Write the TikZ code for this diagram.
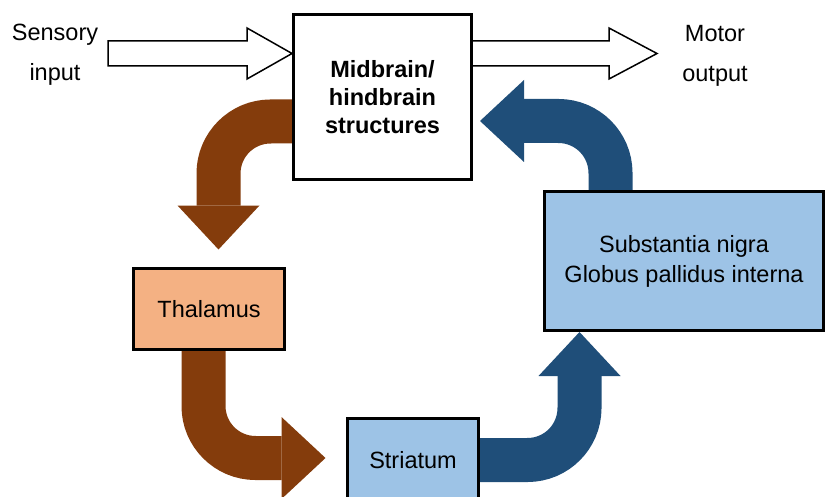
\documentclass[tikz,border=0pt]{standalone}
\usepackage{fontspec}
\setmainfont{Liberation Sans}
\usepackage{xcolor}
\usetikzlibrary{arrows.meta,backgrounds}
\definecolor{brownarr}{HTML}{843C0C}
\definecolor{bluearr}{HTML}{1F4E79}
\definecolor{thalfill}{HTML}{F4B183}
\definecolor{bluefill}{HTML}{9DC3E6}

\begin{document}
\begin{tikzpicture}[x=1pt,y=-1pt]
  \tikzset{region/.style = {shape=rectangle,draw,line width=3pt,align=center,inner sep=2pt,font=\fontsize{23.5}{28}\selectfont}}
  \tikzset{iotext/.style = {align=center,inner sep=0pt,font=\fontsize{23.5}{40}\selectfont}}
  \tikzset{pathway/.style = {line width=44pt,rounded corners=52pt,-{Triangle[width=82pt,length=44pt,line width=0pt]}}}
  \tikzset{hollow/.style = {draw,fill=white,line width=1.5pt,line join=miter}}

  \useasboundingbox (0,0) rectangle (826,497);

	\node[region,fill=white,minimum width=178pt,minimum height=164pt,font=\fontsize{23.5}{28}\selectfont\bfseries] (mid) at (382.5,97) {Midbrain/\\hindbrain\\structures};
	\node[region,fill=thalfill,minimum width=151pt,minimum height=81pt] (thal) at (209,309) {Thalamus};
	\node[region,fill=bluefill,minimum width=131pt,minimum height=84pt] (stri) at (413,460) {Striatum};
	\node[region,fill=bluefill,minimum width=279pt,minimum height=139pt,font=\fontsize{23.5}{30}\selectfont] (sn) at (684,261) {Substantia nigra\\Globus pallidus interna};

	\node[iotext] (sens) at (55,55) {Sensory\\input};
	\node[iotext] (motor) at (715,56) {Motor\\output};

  \begin{scope}[on background layer]
    % input / output
    \draw[hollow] ([yshift=43.5pt]mid.west) -- ++(-45,-25.5) -- ++(0,13) -- ++(-139,0) -- ++(0,25) -- ++(139,0) -- ++(0,13) -- cycle;
    \draw[hollow] ([yshift=43.5pt]mid.east) ++(0,-12.5) -- ++(136,0) -- ++(0,-13) -- ++(48,25.5) -- ++(-48,25.5) -- ++(0,-13) -- ++(-136,0);

    % loop
    \draw[pathway,brownarr] ([yshift=-24.5pt]mid.west) -| ([xshift=9.5pt,yshift=17.5pt]thal.north);
    \draw[pathway,brownarr] ([xshift=-5.5pt]thal.south) |- ([xshift=-20.5pt,yshift=2pt]stri.west);
    \draw[pathway,bluearr] (stri.east) -| ([xshift=-104.5pt]sn.south);
    \draw[pathway,bluearr] ([xshift=-73.5pt]sn.north) |- ([xshift=7pt,yshift=-24pt]mid.east);
  \end{scope}

\end{tikzpicture}
\end{document}
